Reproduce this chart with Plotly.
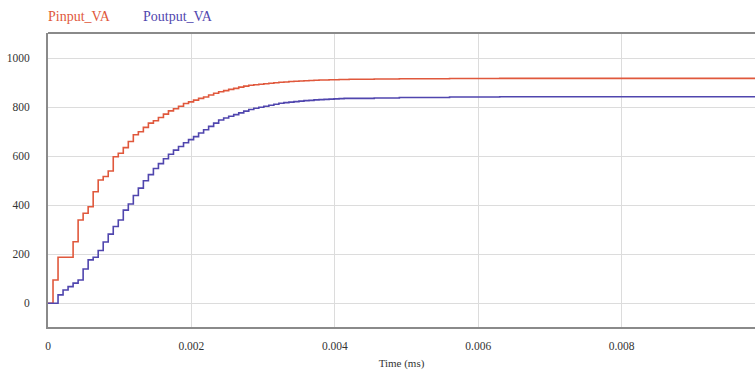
import plotly.graph_objects as go

# time (s) of each sample
time_s = [0.0, 0.00007, 0.00014, 0.00021, 0.00028, 0.00035, 0.00042, 0.00049, 0.00056, 0.00063,
          0.0007, 0.00077, 0.00084, 0.00091, 0.00098, 0.00105, 0.00112, 0.00119, 0.00126, 0.00133,
          0.0014, 0.00147, 0.00154, 0.00161, 0.00168, 0.00175, 0.00182, 0.00189, 0.00196, 0.00203,
          0.0021, 0.00217, 0.00224, 0.00231, 0.00238, 0.00245, 0.00252, 0.00259, 0.00266, 0.00273,
          0.0028, 0.00287, 0.00294, 0.00301, 0.00308, 0.00315, 0.00322, 0.00329, 0.00336, 0.00343,
          0.0035, 0.00357, 0.00364, 0.00371, 0.00378, 0.00385, 0.00392, 0.00399, 0.00406, 0.00413,
          0.0042, 0.00455, 0.0049, 0.0056, 0.0063, 0.007, 0.01]

pinput_va = [0, 95, 188, 188, 188, 251, 340, 367, 394, 455,
             503, 517, 540, 598, 612, 635, 660, 688, 700, 718,
             735, 745, 758, 772, 785, 794, 804, 815, 822, 829,
             836, 842, 850, 857, 863, 868, 873, 877, 882, 886,
             890, 892, 894, 896, 898, 900, 902, 903, 905, 906,
             907, 908, 909, 910, 911, 911, 912, 912, 913, 913,
             914, 915, 916, 917, 918, 918, 918]

poutput_va = [0, 0, 34, 54, 68, 82, 95, 140, 177, 188,
              215, 250, 282, 313, 340, 380, 405, 440, 470, 500,
              525, 550, 570, 590, 608, 625, 640, 655, 668, 680,
              695, 708, 722, 735, 748, 756, 763, 770, 777, 784,
              791, 796, 800, 804, 808, 812, 816, 819, 821, 823,
              825, 827, 828, 830, 831, 832, 833, 834, 835, 836,
              836, 838, 840, 842, 843, 843, 843]

x_ticks = [0, 0.002, 0.004, 0.006, 0.008]
x_tick_labels = ["0", "0.002", "0.004", "0.006", "0.008"]
y_ticks = [0, 200, 400, 600, 800, 1000]
y_tick_labels = ["0", "200", "400", "600", "800", "1000"]

red = "#e0583c"
blue = "#5046ae"
font_family = "'Liberation Serif', 'DejaVu Serif', serif"

W, H = 755, 373
L, R, T, B = 48, 0, 33, 46
plot_w = W - L - R
plot_h = H - T - B

fig = go.Figure()
fig.add_trace(go.Scatter(x=time_s, y=pinput_va, mode="lines", name="Pinput_VA",
                         line=dict(color=red, width=1.6, shape="hv")))
fig.add_trace(go.Scatter(x=time_s, y=poutput_va, mode="lines", name="Poutput_VA",
                         line=dict(color=blue, width=1.6, shape="hv")))

fig.update_layout(
    width=W, height=H,
    margin=dict(l=L, r=R, t=T, b=B),
    paper_bgcolor="white", plot_bgcolor="white",
    showlegend=False,
    font=dict(family=font_family, size=11.5, color="#333333"),
    xaxis=dict(range=[0, 0.00986], tickvals=x_ticks, ticktext=x_tick_labels,
               showgrid=True, gridcolor="#dcdcdc", gridwidth=1, zeroline=False,
               showline=True, linecolor="#8a8a8a", linewidth=2, ticks="",
               ticklabelstandoff=7,
               title=dict(text="Time (ms)", font=dict(size=11, family=font_family), standoff=9)),
    yaxis=dict(range=[-97, 1103], tickvals=y_ticks, ticktext=y_tick_labels,
               showgrid=True, gridcolor="#dcdcdc", gridwidth=1, zeroline=False,
               showline=True, linecolor="#8a8a8a", linewidth=2, ticks="", ticklabelstandoff=14),
    shapes=[dict(type="line", xref="paper", yref="paper", x0=0, x1=1, y0=1, y1=1,
                 line=dict(color="#8a8a8a", width=2))],
    annotations=[
        dict(text="Pinput_VA", x=(79 - L) / plot_w, y=1 + (T - 16) / plot_h, xref="paper", yref="paper",
             showarrow=False, xanchor="center", yanchor="middle",
             font=dict(color=red, size=14, family=font_family)),
        dict(text="Poutput_VA", x=(178 - L) / plot_w, y=1 + (T - 16) / plot_h, xref="paper", yref="paper",
             showarrow=False, xanchor="center", yanchor="middle",
             font=dict(color=blue, size=14, family=font_family)),
    ],
)

fig.write_html("out.html", config={"displayModeBar": False},
               post_script="document.body.style.margin='0';document.body.style.overflow='hidden';")
